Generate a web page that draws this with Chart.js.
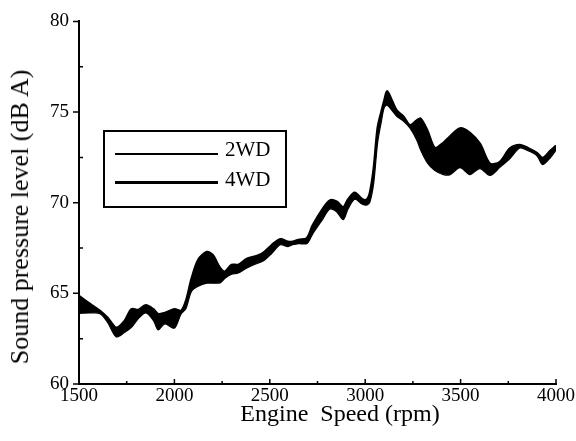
<!DOCTYPE html>
<html>
<head>
<meta charset="utf-8">
<script src="https://cdn.jsdelivr.net/npm/chart.js@4/dist/chart.umd.min.js"></script>
<style>
  html, body { margin: 0; padding: 0; background: #fff; }
  #wrap { position: relative; width: 576px; height: 441px; font-family: 'Liberation Serif', 'DejaVu Serif', serif; color: #000; }
  canvas { position: absolute; left: 0; top: 0; }
  .ytitle { position: absolute; left: 20px; top: 217px; font-size: 26px; line-height: 1; white-space: nowrap;
            transform: translate(-50%, -50%) rotate(-90deg); }
  .xtitle { position: absolute; left: 340px; top: 401px; font-size: 24px; line-height: 1; white-space: pre;
            transform: translateX(-50%); }
  .legend { position: absolute; left: 103px; top: 130px; width: 180px; height: 74px; border: 2px solid #000; }
  .lg-line { position: absolute; left: 10px; width: 103px; background: #000; }
  .lg-text { position: absolute; left: 120px; font-size: 21px; line-height: 1; }
</style>
</head>
<body>
<div id="wrap">
  <canvas id="c" width="576" height="441"></canvas>
  <div class="ytitle">Sound pressure level (dB A)</div>
  <div class="xtitle">Engine  Speed (rpm)</div>
  <div class="legend">
    <div class="lg-line" style="top:21px;height:1.5px;"></div>
    <div class="lg-text" style="top:7px;">2WD</div>
    <div class="lg-line" style="top:49px;height:3px;"></div>
    <div class="lg-text" style="top:37px;">4WD</div>
  </div>
</div>
<script>
const rpm = [1500,1560,1610,1650,1695,1740,1775,1810,1850,1890,1915,1950,2000,2035,2060,2090,2125,2170,2200,2240,2265,2300,2335,2380,2420,2465,2510,2555,2595,2620,2650,2695,2725,2775,2815,2850,2885,2910,2945,2985,3010,3025,3045,3065,3085,3100,3115,3140,3165,3200,3235,3270,3290,3325,3365,3410,3445,3497,3549,3601,3654,3706,3760,3810,3855,3900,3930,3970,4000];
const spl4WD = [64.85,64.40,64.03,63.65,63.10,63.49,64.12,64.08,64.35,64.12,63.85,63.92,64.12,64.03,64.55,65.80,66.85,67.28,67.12,66.38,66.20,66.57,66.57,66.90,67.02,67.23,67.66,67.98,67.85,67.85,67.95,68.05,68.75,69.62,70.12,70.06,69.75,70.17,70.55,70.18,70.18,70.55,71.90,74.10,75.02,75.62,76.15,75.62,75.08,74.75,74.27,74.53,74.64,74.00,73.02,73.30,73.66,74.10,73.85,73.25,72.15,72.25,73.00,73.18,73.00,72.74,72.46,72.85,73.15];
const spl2WD = [63.90,63.92,63.88,63.40,62.60,62.85,63.12,63.60,63.92,63.50,62.98,63.32,63.08,63.87,64.15,65.12,65.40,65.56,65.56,65.58,65.83,66.05,66.12,66.40,66.60,66.78,67.20,67.68,67.58,67.68,67.74,67.75,68.28,69.05,69.65,69.50,69.06,69.65,70.19,69.92,69.88,70.05,71.12,73.30,74.50,75.26,75.38,75.10,74.77,74.50,74.11,73.46,72.92,72.21,71.77,71.55,71.55,71.93,71.55,71.88,71.50,71.95,72.45,73.02,72.86,72.59,72.10,72.48,72.90];
const xTicks = [1500, 2000, 2500, 3000, 3500, 4000];
const yTicks = [60, 65, 70, 75, 80];

const pts = (ys) => rpm.map((x, i) => ({ x: x, y: ys[i] }));

const tickPlugin = {
  id: 'tickMarks',
  afterDraw(chart) {
    const ctx = chart.ctx;
    const xs = chart.scales.x, ys = chart.scales.y;
    const a = chart.chartArea;
    ctx.save();
    ctx.strokeStyle = '#000';
    ctx.lineWidth = 1.5;
    ctx.beginPath();
    for (let v = xs.min; v <= xs.max; v += 250) {
      const px = xs.getPixelForValue(v);
      const len = (v % 500 === 0) ? 5 : 3;
      ctx.moveTo(px, a.bottom);
      ctx.lineTo(px, a.bottom - len);
    }
    for (let v = ys.min; v <= ys.max; v += 2.5) {
      const py = ys.getPixelForValue(v);
      if (v % 5 === 0) {
        ctx.moveTo(a.left, py);
        ctx.lineTo(a.left - 6, py);
      } else {
        ctx.moveTo(a.left, py);
        ctx.lineTo(a.left + 4, py);
      }
    }
    ctx.stroke();
    ctx.restore();
  }
};

const tickFont = { family: "'Liberation Serif', serif", size: 19 };

new Chart(document.getElementById('c'), {
  type: 'line',
  data: {
    datasets: [
      { label: '4WD', data: pts(spl4WD), borderColor: '#000', borderWidth: 2.5, backgroundColor: '#000',
        fill: '+1', pointRadius: 0, tension: 0.3 },
      { label: '2WD', data: pts(spl2WD), borderColor: '#000', borderWidth: 1.2, backgroundColor: '#000',
        fill: false, pointRadius: 0, tension: 0.3 }
    ]
  },
  options: {
    responsive: false,
    animation: false,
    devicePixelRatio: 1,
    layout: { padding: { left: 0, top: 17, right: 20, bottom: 0 } },
    plugins: { legend: { display: false }, tooltip: { enabled: false } },
    scales: {
      x: {
        type: 'linear', min: 1500, max: 4000,
        afterBuildTicks: (s) => { s.ticks = xTicks.map(v => ({ value: v })); },
        afterFit: (s) => { s.height = 57; },
        grid: { display: false, drawTicks: false },
        border: { display: true, color: '#000', width: 2 },
        ticks: { color: '#000', font: tickFont, padding: 1, maxRotation: 0, autoSkip: false,
                 callback: (v) => String(v) }
      },
      y: {
        min: 60, max: 80,
        afterBuildTicks: (s) => { s.ticks = yTicks.map(v => ({ value: v })); },
        afterFit: (s) => { s.width = 79; },
        grid: { display: false, drawTicks: false },
        border: { display: true, color: '#000', width: 2 },
        ticks: { color: '#000', font: tickFont, padding: 10, callback: (v) => String(v) }
      }
    }
  },
  plugins: [tickPlugin]
});
</script>
</body>
</html>
